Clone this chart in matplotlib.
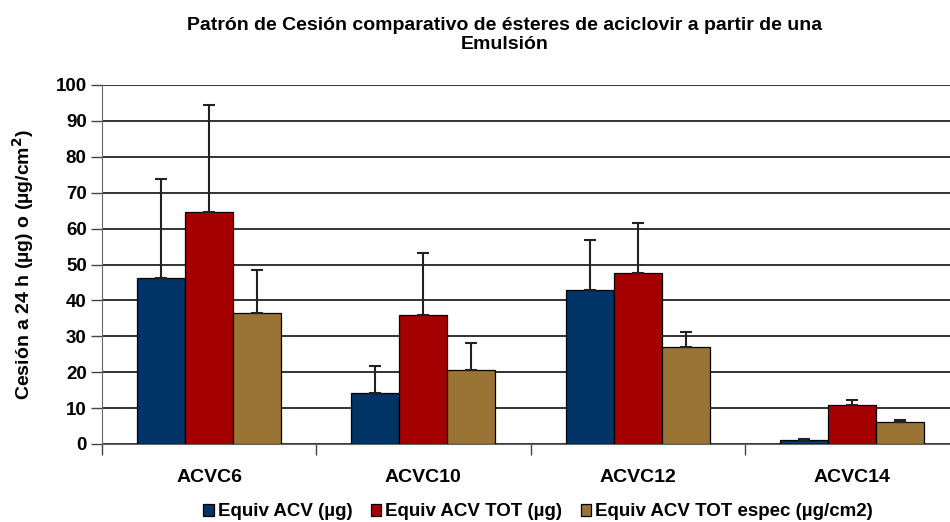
import matplotlib
matplotlib.use("Agg")
import matplotlib.pyplot as plt
import numpy as np

plt.rcParams['font.family'] = ['Liberation Sans', 'DejaVu Sans']

categories = ["ACVC6", "ACVC10", "ACVC12", "ACVC14"]
series_names = ["Equiv ACV (µg)", "Equiv ACV TOT (µg)", "Equiv ACV TOT espec (µg/cm2)"]
equiv_acv = [46.2, 14.2, 42.9, 1.1]
equiv_acv_err = [27.6, 7.5, 13.9, 0.2]
equiv_tot = [64.6, 35.9, 47.6, 10.9]
equiv_tot_err = [29.8, 17.3, 14.0, 1.3]
equiv_espec = [36.5, 20.6, 27.0, 6.1]
equiv_espec_err = [12.0, 7.5, 4.2, 0.6]
colors = ["#003366", "#A50000", "#9A7434"]
yticks = [0, 10, 20, 30, 40, 50, 60, 70, 80, 90, 100]

fig = plt.figure(figsize=(9.5, 5.22), dpi=100)
ax = fig.add_axes([102/950, 78/522, (959-102)/950, 359/522])

x = np.arange(len(categories))
w = 0.224
vals = [equiv_acv, equiv_tot, equiv_espec]
errs = [equiv_acv_err, equiv_tot_err, equiv_espec_err]
handles = []
for i, (v, e, c) in enumerate(zip(vals, errs, colors)):
    b = ax.bar(x + (i - 1) * w, v, w, color=c, edgecolor='black', linewidth=0.9, zorder=3,
               label=series_names[i])
    ax.errorbar(x + (i - 1) * w, v, yerr=[np.zeros(len(e)), e], fmt='none',
                ecolor='#222222', elinewidth=1.5, capsize=4, capthick=1.5, zorder=4)
    handles.append(b)

ax.set_xlim(-0.5, len(categories) - 0.5)
ax.set_ylim(0, 100)
ax.set_yticks(yticks)
ax.set_yticklabels([str(t) for t in yticks], fontsize=13.5, fontweight='bold')
ax.yaxis.grid(True, color='#222222', linewidth=1.3, zorder=0)
ax.set_axisbelow(True)

ax.set_xticks(x)
ax.set_xticklabels(categories, fontsize=14, fontweight='bold')
ax.tick_params(axis='x', length=0, pad=18)
ax.set_xticks(np.arange(len(categories) + 1) - 0.5, minor=True)
ax.tick_params(axis='x', which='minor', length=8, width=1, color='#444444')
ax.tick_params(axis='y', length=8, width=1, color='#444444', pad=3)

for s in ['top', 'right']:
    ax.spines[s].set_visible(False)
ax.spines['left'].set_color('#666666')
ax.spines['bottom'].set_color('#666666')

ax.set_ylabel("Cesión a 24 h (µg) o (µg/cm$^\\mathbf{2}$)", fontsize=14, fontweight='bold', labelpad=14)

fig.text(505/950, 1 - 35/522, "Patrón de Cesión comparativo de ésteres de aciclovir a partir de una\nEmulsión",
         ha='center', va='center', fontsize=14, fontweight='bold', linespacing=1.2)

fig.legend(handles=handles, labels=series_names, loc='center', bbox_to_anchor=(538/950, 1 - 512/522),
           ncol=3, frameon=False, prop={'size': 13.5, 'weight': 'bold'},
           handlelength=0.55, handleheight=0.55, handletextpad=0.2, columnspacing=1.0)

fig.savefig("out.png", dpi=100)
